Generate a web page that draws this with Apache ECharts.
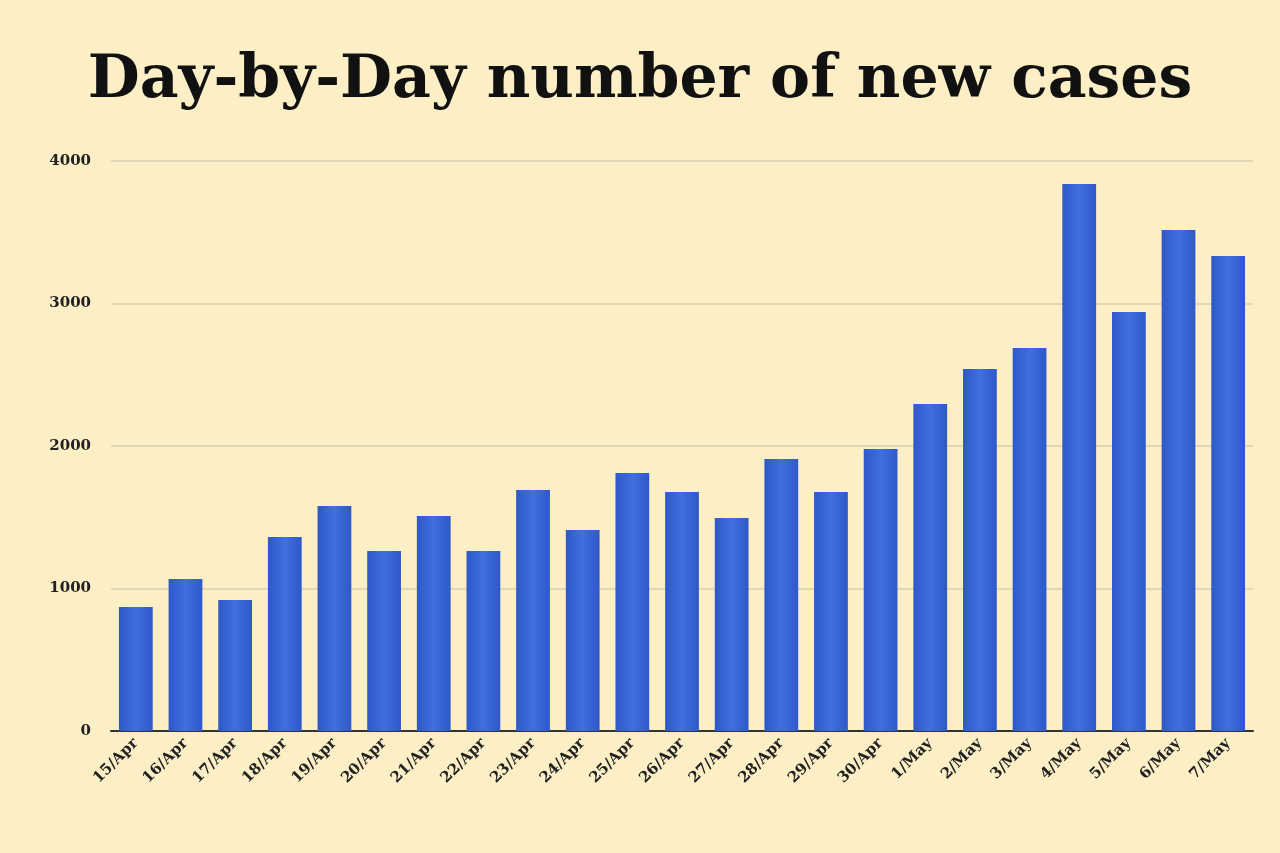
<!DOCTYPE html>
<html><head><meta charset="utf-8">
<script src="https://cdn.jsdelivr.net/npm/echarts@6/dist/echarts.min.js"></script>
<style>html,body{margin:0;background:#fcefc6}#c{width:1280px;height:853px}</style>
</head><body><div id="c"></div>
<script>
const categories=['15/Apr','16/Apr','17/Apr','18/Apr','19/Apr','20/Apr','21/Apr','22/Apr','23/Apr','24/Apr','25/Apr','26/Apr','27/Apr','28/Apr','29/Apr','30/Apr','1/May','2/May','3/May','4/May','5/May','6/May','7/May'];
const newCases=[870,1067,919,1361,1579,1263,1509,1263,1691,1411,1811,1677,1495,1909,1677,1979,2295,2540,2688,3839,2940,3516,3333];
const chart=echarts.init(document.getElementById('c'));
chart.setOption({
  backgroundColor:'#fcefc6',
  title:{text:'Day-by-Day number of new cases',left:'center',top:46,textStyle:{fontFamily:'DejaVu Serif',fontWeight:'bold',fontSize:60,color:'#111'}},
  grid:{left:111,right:27,top:161,bottom:122},
  xAxis:{type:'category',data:categories,axisTick:{show:false},axisLine:{lineStyle:{color:'#333',width:2}},
    axisLabel:{rotate:45,interval:0,fontFamily:'DejaVu Serif',fontWeight:'bold',fontSize:15,color:'#222',margin:10}},
  yAxis:{type:'value',min:0,max:4000,interval:1000,axisLabel:{formatter:v=>String(v),fontFamily:'DejaVu Serif',fontWeight:'bold',fontSize:15,color:'#222',margin:20},
    splitLine:{lineStyle:{color:'#d9cfae',width:1.5}}},
  series:[{type:'bar',data:newCases,barWidth:'68%',itemStyle:{color:new echarts.graphic.LinearGradient(0,0,1,0,[{offset:0,color:'#2f58c8'},{offset:0.5,color:'#3f6fe0'},{offset:1,color:'#2f58c8'}])}}]
});
</script></body></html>
